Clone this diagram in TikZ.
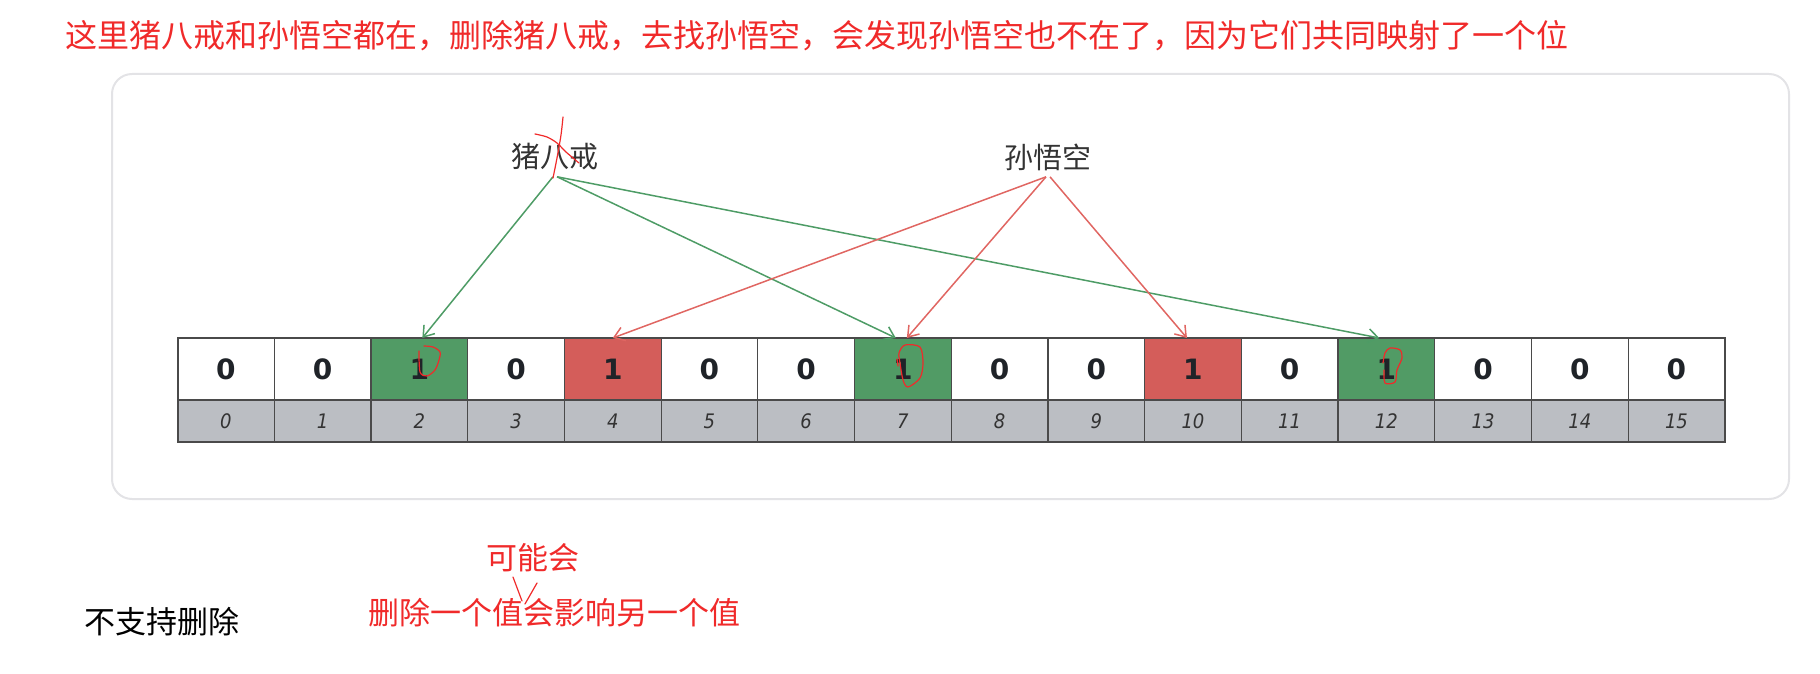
\documentclass[tikz,border=0pt]{standalone}
\usepackage{fontspec}
\usetikzlibrary{positioning,arrows.meta}
\newfontfamily\cjk{Noto Sans CJK SC}
\newfontfamily\bitfont{DejaVu Sans}
\newfontfamily\idxfont{DejaVu Sans Condensed}
\definecolor{cellgreen}{HTML}{519B65}
\definecolor{cellred}{HTML}{D45D5A}
\definecolor{idxgray}{HTML}{BBBEC3}
\definecolor{cellline}{HTML}{4A4A4A}
\definecolor{linegreen}{HTML}{4E9C66}
\definecolor{linered}{HTML}{E06662}
\definecolor{inkred}{HTML}{F02A2A}
\definecolor{framegray}{HTML}{E3E3E6}
\definecolor{nametext}{HTML}{333333}
\definecolor{bittext}{HTML}{1F2328}

\begin{document}
\begin{tikzpicture}[
    x=0.5pt, y=-0.5pt,
    bit/.style={draw=cellline, line width=0.6pt, minimum width=48.35pt, minimum height=31pt, inner sep=0pt, outer sep=0pt,
        font=\bitfont\bfseries\fontsize{14pt}{14pt}\selectfont, text=bittext},
    idx/.style={draw=cellline, fill=idxgray, line width=0.6pt, minimum width=48.35pt, minimum height=21pt, inner sep=0pt, outer sep=0pt,
        font=\idxfont\itshape\fontsize{10pt}{10pt}\selectfont, text=nametext},
    keylabel/.style={font=\cjk\fontsize{14.5pt}{14.5pt}\selectfont, text=nametext, inner sep=3pt},
    note/.style={font=\cjk\fontsize{16pt}{16pt}\selectfont, text=inkred, inner sep=0pt},
    garr/.style={-{Straight Barb[length=5pt,width=7pt]}, draw=linegreen, line width=0.75pt},
    rarr/.style={-{Straight Barb[length=5pt,width=7pt]}, draw=linered, line width=0.75pt},
    ink/.style={draw=inkred, line width=0.6pt, line cap=round, line join=round}
]
\useasboundingbox (0,0) rectangle (1820,674);

% frame
\draw[framegray, line width=1pt, rounded corners=10pt] (112,74) rectangle (1789,499);

% bit array
\foreach \f/\v [count=\i from 0] in {white/0,white/0,cellgreen/1,white/0,cellred/1,white/0,white/0,cellgreen/1,
                                     white/0,white/0,cellred/1,white/0,cellgreen/1,white/0,white/0,white/0}{
  \node[bit, fill=\f] (b\i) at ({225.95+96.7*\i},369) {\v};
  \node[idx, below=0pt of b\i] (n\i) {\i};
}
\draw[cellline, line width=1pt] (b0.north west) rectangle (n15.south east);

% keys
\node[keylabel] (zhu) at (555,157) {猪八戒};
\node[keylabel] (sun) at (1048,157) {孙悟空};

\draw[garr] ([xshift=-1pt]zhu.south) -- ([xshift=1.5pt]b2.north);
\draw[garr] ([xshift=1pt]zhu.south) -- ([xshift=-3.5pt]b7.north);
\draw[garr] ([xshift=1pt]zhu.south) -- ([xshift=-3.5pt]b12.north);
\draw[rarr] ([xshift=-1pt]sun.south) -- (b4.north);
\draw[rarr] ([xshift=-1pt]sun.south) -- ([xshift=2pt]b7.north);
\draw[rarr] ([xshift=1pt]sun.south) -- ([xshift=-3pt]b10.north);

% notes
\node[note] (title) at (817,36) {这里猪八戒和孙悟空都在，删除猪八戒，去找孙悟空，会发现孙悟空也不在了，因为它们共同映射了一个位};
\node[font=\cjk\fontsize{15.5pt}{15.5pt}\selectfont, inner sep=0pt] (nodel) at (162,622) {不支持删除};
\node[note, font=\cjk\fontsize{15.5pt}{15.5pt}\selectfont] (effect) at (554,613) {删除一个值会影响另一个值};
\node[note, font=\cjk\fontsize{15.5pt}{15.5pt}\selectfont] (maybe) at (533,558) {可能会};

% hand marks
\draw[ink] (513,577) -- (522,601);
\draw[ink] (537,583) -- (525,604);
\draw[ink] plot[smooth] coordinates {(563,117) (561,135) (557,158) (553,178)};
\draw[ink] plot[smooth] coordinates {(535,134) (547,137) (557,143) (566,152) (579,163)};
\draw[ink] plot[smooth] coordinates {(419,351) (420,372) (427,376) (435,370) (439,360) (440,352) (433,347) (424,346)};
\draw[ink] plot[smooth cycle] coordinates {(905,345) (920,347) (923,363) (920,378) (908,387) (903,380) (900,363) (899,353)};
\draw[ink] (897,359) -- (898,366);
\draw[ink] plot[smooth] coordinates {(1383,363) (1385,353) (1390,348) (1400,350) (1402,358) (1397,370) (1395,382) (1385,383) (1384,370)};
\end{tikzpicture}
\end{document}
